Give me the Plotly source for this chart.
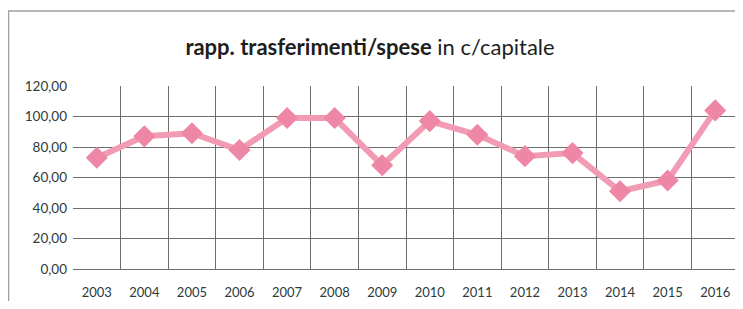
import plotly.graph_objects as go

years = ["2003","2004","2005","2006","2007","2008","2009","2010","2011","2012","2013","2014","2015","2016"]
values = [73, 87, 89, 78, 99, 99, 68, 97, 88, 74, 76, 51, 58, 104]
y_ticks = [0, 20, 40, 60, 80, 100, 120]
y_ticklabels = ["0,00", "20,00", "40,00", "60,00", "80,00", "100,00", "120,00"]

fig = go.Figure(go.Scatter(
    x=years, y=values, mode="lines+markers",
    line=dict(color="#f29bb5", width=6),
    marker=dict(symbol="diamond", size=17, color="#ee86a6"),
))

# page body has an 8px offset; figure coordinates are page coordinates minus 8
W, H = 735, 293
L, R, T, B = 65, 4, 78, 32
pw, ph = W - L - R, H - T - B

fig.update_layout(
    width=W, height=H, autosize=False,
    margin=dict(l=L, r=R, t=T, b=B, pad=0),
    paper_bgcolor="white", plot_bgcolor="white",
    showlegend=False,
    title=dict(text="<b>rapp. trasferimenti/spese</b> in c/capitale", x=(370 - 8) / W, xanchor="center",
               y=1 - 39 / H, yanchor="middle",
               font=dict(family="Lato", size=22, color="#1e1e1e")),
    font=dict(family="Lato", size=13, color="#2d3b3b"),
    shapes=[dict(type="rect", xref="paper", yref="paper", layer="below",
                 x0=(0.5 - L) / pw, x1=(733 - L) / pw,
                 y0=-(297 - (H - B)) / ph, y1=1 + (T - 3) / ph,
                 line=dict(color="#a0a0a0", width=1.5))],
)
fig.update_xaxes(type="category", range=[-0.5, len(years) - 0.5], tickson="boundaries",
                 showgrid=True, gridcolor="#6e6e6e", gridwidth=1, ticks="", showline=False,
                 tickfont=dict(size=13), automargin=False, ticklabelstandoff=14)
fig.update_yaxes(range=[0, 120], tickvals=y_ticks, ticktext=y_ticklabels, showgrid=True,
                 gridcolor="#6e6e6e", gridwidth=1, zeroline=True, zerolinecolor="#6e6e6e",
                 zerolinewidth=1, tickfont=dict(size=13.5), ticks="", automargin=False,
                 ticklabelstandoff=5)
fig.write_html("out.html")
